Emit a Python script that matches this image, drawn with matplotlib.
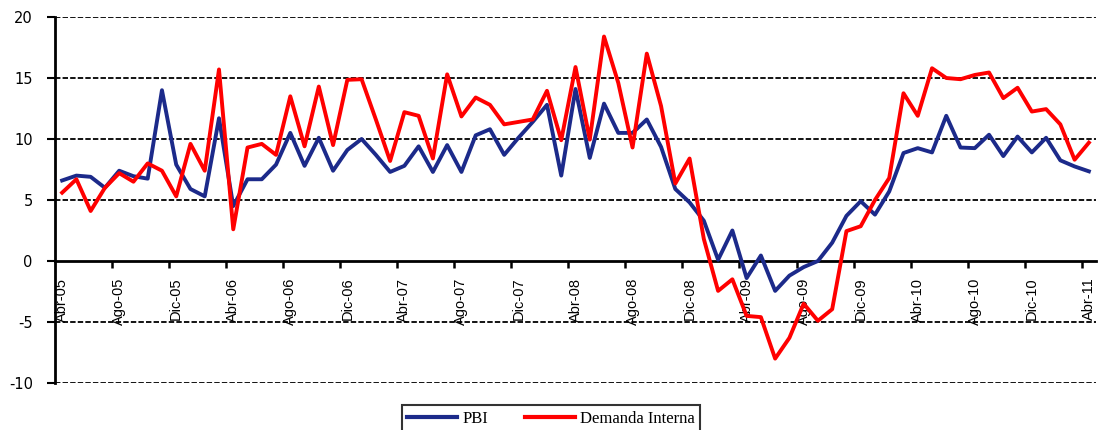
import numpy as np
import matplotlib
matplotlib.use('Agg')
import matplotlib.pyplot as plt

# monthly growth rates (%), Abr-05 .. Abr-11
pbi = [6.6, 7.0, 6.9, 6.0, 7.4, 6.95, 6.75, 14.0, 7.9, 5.9, 5.3, 11.7,
       4.5, 6.7, 6.7, 7.9, 10.5, 7.8, 10.1, 7.4, 9.1, 10.0, 8.7, 7.3,
       7.8, 9.4, 7.3, 9.5, 7.3, 10.3, 10.8, 8.7, 10.1, 11.4, 12.8, 7.0,
       14.1, 8.45, 12.9, 10.5, 10.5, 11.6, 9.35, 5.9, 4.8, 3.3, 0.1, 2.5,
       -1.4, 0.45, -2.45, -1.2, -0.5, 0.0, 1.5, 3.7, 4.9, 3.8, 5.7, 8.85,
       9.25, 8.9, 11.9, 9.3, 9.25, 10.35, 8.6, 10.2, 8.9, 10.1, 8.25, 7.75,
       7.35]
demanda = [5.6, 6.7, 4.1, 6.0, 7.2, 6.5, 8.0, 7.4, 5.3, 9.6, 7.4, 15.7,
           2.6, 9.3, 9.6, 8.7, 13.5, 9.4, 14.3, 9.5, 14.85, 14.9, 11.6, 8.2,
           12.2, 11.9, 8.4, 15.3, 11.85, 13.4, 12.8, 11.2, 11.4, 11.6, 13.95, 9.9,
           15.9, 9.95, 18.4, 14.6, 9.3, 17.0, 12.7, 6.35, 8.4, 1.8, -2.45, -1.5,
           -4.5, -4.6, -8.0, -6.3, -3.5, -4.9, -3.95, 2.45, 2.85, 5.0, 6.8, 13.75,
           11.9, 15.8, 15.0, 14.9, 15.25, 15.45, 13.35, 14.2, 12.25, 12.45, 11.2, 8.3,
           9.7]
tick_labels = ['Abr-05', 'Ago-05', 'Dic-05', 'Abr-06', 'Ago-06', 'Dic-06',
               'Abr-07', 'Ago-07', 'Dic-07', 'Abr-08', 'Ago-08', 'Dic-08',
               'Abr-09', 'Ago-09', 'Dic-09', 'Abr-10', 'Ago-10', 'Dic-10',
               'Abr-11']
y_ticks = [-10, -5, 0, 5, 10, 15, 20]

x = np.arange(len(pbi))

fig = plt.figure(figsize=(10.99, 4.30), dpi=100)
ax = fig.add_axes([55 / 1099, 1 - 383 / 430, (1096 - 55) / 1099, (383 - 17) / 430])

# dashed horizontal gridlines
for yv in y_ticks:
    if yv != 0:
        ax.axhline(yv, color='black', linestyle=(0, (3, 1.2)), linewidth=1.3, zorder=1)

ax.plot(x, pbi, color='#1c2a8a', linewidth=2.8, label='PBI', zorder=3)
ax.plot(x, demanda, color='#ff0000', linewidth=2.8, label='Demanda Interna', zorder=4)

ax.set_xlim(-0.5, len(pbi) - 0.5)
ax.set_ylim(-10, 20)

ax.spines['top'].set_visible(False)
ax.spines['right'].set_visible(False)
ax.spines['bottom'].set_position(('data', 0))
ax.spines['bottom'].set_linewidth(2)
ax.spines['left'].set_linewidth(2)
ax.spines['bottom'].set_zorder(2)

ax.set_yticks(y_ticks)
ax.set_yticklabels([str(v) for v in y_ticks], fontsize=10.5, family='DejaVu Sans')
ax.tick_params(axis='y', length=6, width=1.5, pad=10)

# major ticks on category boundaries, labels on categories (minor)
label_pos = x[::4]
ax.set_xticks(label_pos[1:] - 0.5)
ax.set_xticklabels([])
ax.tick_params(axis='x', which='major', length=5, width=1.8, direction='out')
ax.set_xticks(label_pos, minor=True)
ax.set_xticklabels(tick_labels, minor=True, rotation=90, fontsize=10.5,
                   family='Liberation Sans', va='top', ha='center')
ax.tick_params(axis='x', which='minor', length=0, pad=12)

leg = fig.legend(loc='upper center', bbox_to_anchor=(551 / 1099, 1 - 405 / 430),
                 ncol=2, frameon=True, fancybox=False, edgecolor='black',
                 prop={'family': 'Liberation Serif', 'size': 12},
                 handlelength=3.0, columnspacing=2.2, borderpad=0.35,
                 handletextpad=0.3, borderaxespad=0)
leg.get_frame().set_linewidth(1.5)
for h in leg.get_lines():
    h.set_linewidth(3)

fig.savefig('out.png', dpi=100)
